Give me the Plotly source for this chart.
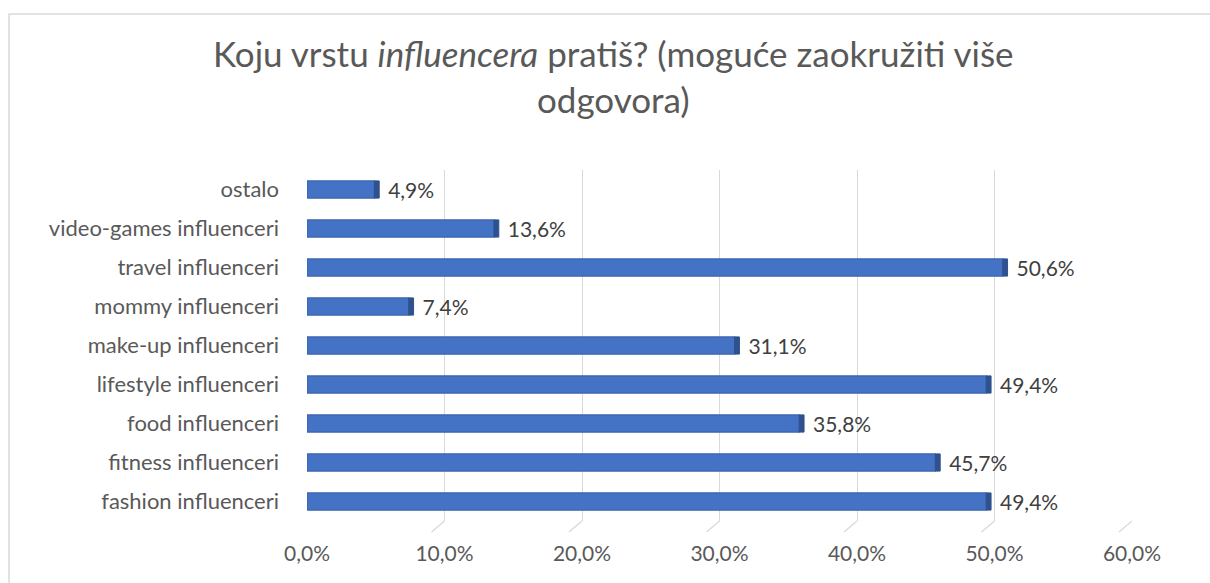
import plotly.graph_objects as go

categories = ["fashion influenceri", "fitness influenceri", "food influenceri",
              "lifestyle influenceri", "make-up influenceri", "mommy influenceri",
              "travel influenceri", "video-games influenceri", "ostalo"]
values = [49.4, 45.7, 35.8, 49.4, 31.1, 7.4, 50.6, 13.6, 4.9]
tick_vals = [0, 10, 20, 30, 40, 50, 60]
tick_text = [f"{v:.1f}%".replace(".", ",") for v in tick_vals]

W, H = 1210, 583
L, R, T, B = 307, W - 1132, 170, H - 521
FONT = "Lato"
GREY = "#595959"
CAP = 0.35  # depth of the 3D end cap, in axis units

fig = go.Figure()
fig.add_trace(go.Bar(
    y=categories, x=values, orientation="h",
    marker=dict(color="#4472C4", line=dict(color="#3A63AD", width=1.2)),
    texttemplate="  %{x:.1f}%", textposition="outside", constraintext="none",
    textfont=dict(family=FONT, size=21, color="#404040"),
    cliponaxis=False, hoverinfo="skip",
))
fig.add_trace(go.Bar(
    y=categories, x=[CAP] * len(values), base=values, orientation="h",
    marker=dict(color="#2F528F", line=dict(color="#2F528F", width=1)),
    hoverinfo="skip",
))

shapes = []
pw = W - L - R
ph = H - T - B
for t in tick_vals:
    shapes.append(dict(type="line", xref="x", yref="paper",
                       x0=t, y0=0, x1=t - 13 / pw * 60, y1=-11 / ph,
                       line=dict(color="#d9d9d9", width=1.3)))
shapes.append(dict(type="rect", xref="paper", yref="paper",
                   x0=-(L - 9) / pw, x1=(W - L + 20) / pw,
                   y0=-(B + 20) / ph, y1=1 + (T - 14) / ph,
                   line=dict(color="#d9d9d9", width=1.5), layer="below"))

fig.add_annotation(
    text="Koju vrstu <i>influencera</i> pratiš? (moguće zaokružiti više<br>odgovora)",
    xref="paper", yref="paper",
    x=(613 - L) / pw, xanchor="center",
    y=1 + (T - 30) / ph, yanchor="top",
    showarrow=False, align="center",
    font=dict(family=FONT, size=35, color=GREY),
)

fig.update_layout(
    width=W, height=H,
    margin=dict(l=L, r=R, t=T, b=B, pad=0),
    paper_bgcolor="white", plot_bgcolor="white",
    separators=",.",
    barmode="overlay",
    bargap=0.56,
    showlegend=False,
    shapes=shapes,
    font=dict(family=FONT, color=GREY),
    xaxis=dict(
        range=[0, 60], tickvals=tick_vals, ticktext=tick_text,
        showgrid=True, gridcolor="#d9d9d9", gridwidth=1.3,
        zeroline=False, showline=False, ticks="",
        tickfont=dict(family=FONT, size=21, color=GREY),
        ticklabelstandoff=18,
    ),
    yaxis=dict(
        categoryorder="array", categoryarray=categories,
        showgrid=False, zeroline=False, showline=False, ticks="",
        tickfont=dict(family=FONT, size=22, color=GREY),
        ticklabelstandoff=27,
    ),
)

fig.write_html("out.html", config={"displayModeBar": False},
               post_script="document.body.style.margin='0';")
